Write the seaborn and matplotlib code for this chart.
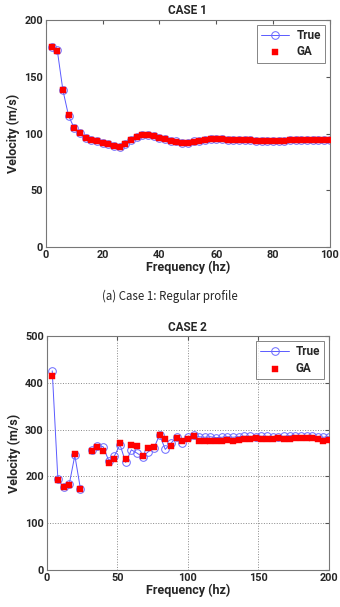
import matplotlib
matplotlib.use("Agg")
import matplotlib.pyplot as plt
import seaborn as sns
import pandas as pd
import numpy as np

# Case 1: regular profile, 2..100 Hz
freq1 = list(range(2, 101, 2))
true1 = [176, 173.5, 138, 115.5, 104.7, 100.5, 96.5, 94.1, 93.2, 91.7,
         90.8, 89.1, 88.5, 90.8, 94.1, 97.0, 99.1, 99.1, 97.6, 96.1,
         95.0, 93.8, 93.0, 92.1, 92.1, 93.0, 93.5, 94.7, 95.0, 95.2,
         95.0, 94.7, 94.7, 94.4, 94.1, 94.1, 93.5, 93.5, 93.2, 93.2,
         93.2, 93.5, 94.1, 94.4, 94.7, 94.7, 94.7, 94.7, 94.7, 94.4]
ga1 = [176, 173, 138, 116, 104.5, 100.5, 96.5, 94.0, 93.0, 91.5,
       90.6, 89.0, 88.2, 90.6, 94.0, 96.8, 98.8, 98.9, 97.4, 95.9,
       94.8, 93.6, 92.8, 91.9, 91.9, 92.8, 93.3, 94.5, 94.8, 95.0,
       94.8, 94.5, 94.5, 94.2, 93.9, 93.9, 93.3, 93.3, 93.0, 93.0,
       93.0, 93.3, 93.9, 94.2, 94.5, 94.5, 94.5, 94.5, 94.5, 94.2]

# Case 2: 4..200 Hz, no value at 28 Hz
freq2 = list(range(4, 201, 4))
true2 = [426, 194, 177, 183, 245, 173, np.nan, 256, 266, 264,
         234, 244, 268, 230, 257, 250, 242, 253, 261, 289,
         258, 271, 284, 272, 284, 289, 285, 284, 285, 283,
         284, 285, 284, 285, 286, 286, 285, 286, 286, 285,
         285, 286, 287, 287, 287, 286, 286, 285, 284, 285]
ga2 = [414, 193, 177, 182, 249, 173, np.nan, 255, 263, 255,
       229, 237, 271, 237, 268, 266, 243, 261, 264, 289,
       280, 266, 282, 277, 280, 287, 275, 277, 276, 275,
       277, 279, 277, 279, 280, 281, 282, 281, 280, 281,
       282, 281, 280, 282, 282, 283, 282, 280, 277, 279]


def frame(freq, true, ga):
    df = pd.DataFrame({"freq": freq, "true": true, "ga": ga})
    # separate line segments where values are missing
    df["seg"] = df["true"].isna().cumsum()
    return df.dropna()


def draw(ax, df, title, xlim, xticks, ylim, yticks, grid, ms_ga):
    sns.lineplot(data=df, x="freq", y="true", units="seg", estimator=None,
                 ax=ax, color="#5a5aff", lw=0.7, marker="o", markersize=5.5,
                 markerfacecolor="none", markeredgecolor="#6a6aff",
                 markeredgewidth=0.7, label="True")
    sns.scatterplot(data=df, x="freq", y="ga", ax=ax, marker="s", s=ms_ga,
                    color="red", edgecolor="red", linewidth=0.3, label="GA",
                    zorder=3)
    ax.set_xlim(*xlim)
    ax.set_ylim(*ylim)
    ax.set_xticks(xticks)
    ax.set_yticks(yticks)
    ax.set_title(title, fontsize=8.5, fontweight="bold", pad=4)
    ax.set_xlabel("Frequency (hz)", fontsize=9, fontweight="bold", labelpad=1)
    ax.set_ylabel("Velocity (m/s)", fontsize=9, fontweight="bold", labelpad=3)
    ax.tick_params(direction="in", top=True, right=True, length=3,
                   labelsize=7.8, pad=2, color="#555555")
    for lab in ax.get_xticklabels() + ax.get_yticklabels():
        lab.set_fontweight("bold")
    for sp in ax.spines.values():
        sp.set_color("#777777")
        sp.set_linewidth(0.8)
    if grid:
        ax.grid(True, ls=":", color="#888888", lw=0.7)
    else:
        ax.grid(False)
    # one legend entry per label (the line may be split into segments)
    handles, labels = ax.get_legend_handles_labels()
    seen = {}
    for h, l in zip(handles, labels):
        seen.setdefault(l, h)
    leg = ax.legend(list(seen.values()), list(seen.keys()), loc="upper right",
                    fontsize=8.5, frameon=True, fancybox=False,
                    edgecolor="#666666", handlelength=2.4, borderpad=0.35,
                    labelspacing=0.3, handletextpad=0.6, borderaxespad=0.4)
    leg.get_frame().set_linewidth(0.7)
    for t in leg.get_texts():
        t.set_fontweight("bold")


def main():
    sns.set_style("white")
    plt.rcParams["font.family"] = ["Roboto", "DejaVu Sans"]

    fig = plt.figure(figsize=(3.4, 6.07), dpi=100)
    ax1 = fig.add_axes([0.135, 0.593, 0.835, 0.374])
    ax2 = fig.add_axes([0.137, 0.061, 0.831, 0.385])

    draw(ax1, frame(freq1, true1, ga1), "CASE 1", (0, 100), range(0, 101, 20),
         (0, 200), range(0, 201, 50), False, 14)
    draw(ax2, frame(freq2, true2, ga2), "CASE 2", (0, 200), range(0, 201, 50),
         (0, 500), range(0, 501, 100), True, 22)

    fig.text(0.5, 0.512, "(a) Case 1: Regular profile", ha="center",
             va="center", fontsize=8.3,
             family=["Noto Sans CJK KR", "DejaVu Sans"])

    fig.savefig("out.png", dpi=100)


if __name__ == "__main__":
    main()
